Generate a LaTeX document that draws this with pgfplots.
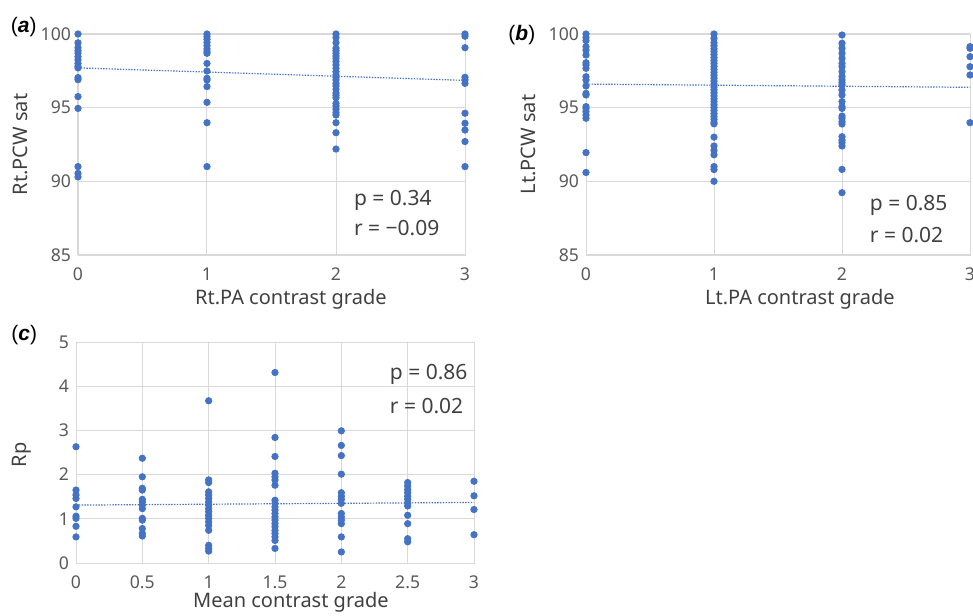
\documentclass[border=0pt]{standalone}
\usepackage{pgfplots}
\pgfplotsset{compat=1.18}
\usepackage{fontspec}
\setmainfont{Noto Sans}
\newfontfamily\tagfont{Liberation Sans}
\definecolor{XBlue}{HTML}{4472C4}
\definecolor{GridGray}{HTML}{D9D9D9}
\definecolor{TickGray}{HTML}{595959}
\definecolor{TextGray}{HTML}{404040}

\pgfplotsset{
  panel/.style={
    scale only axis,
    axis line style={GridGray},
    grid=major,
    grid style={GridGray, line width=0.5pt},
    major tick length=0pt,
    tick style={draw=none},
    ticklabel style={font=\fontsize{8.8}{10}\selectfont, text=TickGray},
    /pgf/number format/assume math mode=true,
    xticklabel style={yshift=-3pt},
    label style={font=\fontsize{10}{12}\selectfont, text=TextGray},
    clip=false,
  },
  dots/.style={only marks, mark=*, mark size=1.6pt, color=XBlue},
  trend/.style={XBlue, line width=0.6pt, dash pattern=on 0.7pt off 0.7pt},
}
\tikzset{
  stat/.style={font=\fontsize{10.5}{12}\selectfont, text=TextGray, anchor=west},
  tag/.style={font=\tagfont\fontsize{10.5}{12}\selectfont, text=black},
}

\begin{document}
\begin{tikzpicture}

% (a) Rt.PCW sat vs Rt.PA contrast grade
\begin{axis}[panel,
  at={(39pt,180pt)}, anchor=south west,
  width=193.5pt, height=110.5pt,
  xmin=0, xmax=3, ymin=85, ymax=100,
  xtick={0,1,2,3}, ytick={85,90,95,100},
  xlabel={Rt.PA contrast grade},
  ylabel={Rt.PCW sat},
  xlabel style={at={(axis description cs:0.55,-0.2)}, anchor=center},
  ylabel style={at={(axis description cs:-0.15,0.5)}, anchor=center},
]
\addplot[dots] table {
x y
0 100
0 99.4
0 99.07
0 98.87
0 98.7
0 98.46
0 98.24
0 98.0
0 97.8
0 97.7
0 97.04
0 96.9
0 95.75
0 94.95
0 91.0
0 90.54
0 90.3
1 100
1 99.82
1 99.64
1 99.43
1 99.2
1 98.98
1 98.8
1 98.69
1 98.0
1 97.49
1 96.99
1 96.88
1 96.43
1 95.36
1 93.98
1 91.0
2 100
2 99.77
2 99.41
2 99.03
2 98.87
2 98.69
2 98.51
2 98.33
2 98.12
2 97.9
2 97.67
2 97.44
2 97.22
2 97.06
2 96.88
2 96.65
2 96.47
2 96.24
2 96.0
2 95.86
2 95.68
2 95.29
2 95.11
2 94.89
2 94.66
2 94.5
2 93.98
2 93.3
2 92.19
3 100
3 99.85
3 99.07
3 97.06
3 96.88
3 96.65
3 94.62
3 93.94
3 93.48
3 92.7
3 91.0
};
\addplot[trend] coordinates {(0,97.7) (3,96.85)};
\node[tag] at (axis description cs:-0.14,1.03) {(\textbf{\textit{a}})};
\node[stat] at (axis description cs:0.695,0.249) {p = 0.34};
\node[stat] at (axis description cs:0.695,0.122) {r = −0.09};
\end{axis}

% (b) Lt.PCW sat vs Lt.PA contrast grade
\begin{axis}[panel,
  at={(293pt,180pt)}, anchor=south west,
  width=192pt, height=110.5pt,
  xmin=0, xmax=3, ymin=85, ymax=100,
  xtick={0,1,2,3}, ytick={85,90,95,100},
  xlabel={Lt.PA contrast grade},
  ylabel={Lt.PCW sat},
  xlabel style={at={(axis description cs:0.557,-0.2)}, anchor=center},
  ylabel style={at={(axis description cs:-0.151,0.5)}, anchor=center},
]
\addplot[dots] table {
x y
0 100
0 99.77
0 99.55
0 99.14
0 98.91
0 98.57
0 98.05
0 97.9
0 97.67
0 97.1
0 96.88
0 96.47
0 95.97
0 95.86
0 95.07
0 94.95
0 94.73
0 94.5
0 94.28
0 91.95
0 90.6
1 100
1 99.7
1 99.4
1 99.2
1 99.0
1 98.8
1 98.6
1 98.4
1 98.2
1 98.0
1 97.8
1 97.6
1 97.4
1 97.2
1 97.0
1 96.8
1 96.6
1 96.4
1 96.2
1 96.0
1 95.8
1 95.6
1 95.4
1 95.2
1 95.0
1 94.8
1 94.6
1 94.4
1 94.2
1 94.0
1 93.9
1 93.0
1 92.4
1 92.1
1 91.8
1 91.0
1 90.8
1 90.0
2 99.93
2 99.37
2 99.03
2 98.69
2 98.35
2 98.0
2 97.78
2 97.44
2 97.1
2 96.88
2 96.7
2 96.54
2 96.2
2 95.86
2 95.41
2 95.07
2 94.95
2 94.43
2 94.28
2 94.05
2 93.89
2 93.03
2 92.8
2 92.62
2 92.4
2 90.81
2 89.23
3 99.14
3 99.03
3 98.46
3 97.78
3 97.22
3 93.98
};
\addplot[trend] coordinates {(0,96.6) (3,96.38)};
\node[tag] at (axis description cs:-0.167,0.995) {(\textbf{\textit{b}})};
\node[stat] at (axis description cs:0.721,0.226) {p = 0.85};
\node[stat] at (axis description cs:0.721,0.09) {r = 0.02};
\end{axis}

% (c) Rp vs Mean contrast grade
\begin{axis}[panel,
  at={(38pt,26pt)}, anchor=south west,
  width=199pt, height=110.5pt,
  xmin=0, xmax=3, ymin=0, ymax=5,
  xtick={0,0.5,1,1.5,2,2.5,3}, ytick={0,1,2,3,4,5},
  xlabel={Mean contrast grade},
  ylabel={Rp},
  xlabel style={at={(axis description cs:0.54,-0.18)}, anchor=center},
  ylabel style={at={(axis description cs:-0.136,0.49)}, anchor=center},
]
\addplot[dots] table {
x y
0 2.63
0 1.65
0 1.54
0 1.46
0 1.27
0 1.06
0 1.01
0 0.83
0 0.59
0.5 2.37
0.5 1.95
0.5 1.69
0.5 1.65
0.5 1.44
0.5 1.38
0.5 1.31
0.5 1.23
0.5 1.01
0.5 0.97
0.5 0.78
0.5 0.67
0.5 0.61
1 3.67
1 1.88
1 1.82
1 1.61
1 1.54
1 1.46
1 1.38
1 1.31
1 1.23
1 1.16
1 1.08
1 1.01
1 0.93
1 0.85
1 0.74
1 0.40
1 0.33
1 0.27
1.5 4.31
1.5 2.84
1.5 2.41
1.5 2.03
1.5 1.95
1.5 1.88
1.5 1.76
1.5 1.42
1.5 1.35
1.5 1.27
1.5 1.20
1.5 1.12
1.5 1.04
1.5 0.97
1.5 0.89
1.5 0.82
1.5 0.74
1.5 0.67
1.5 0.59
1.5 0.51
1.5 0.33
2 2.99
2 2.66
2 2.43
2 2.01
2 1.59
2 1.51
2 1.44
2 1.35
2 1.12
2 1.04
2 0.97
2 0.89
2 0.59
2 0.25
2.5 1.82
2.5 1.74
2.5 1.66
2.5 1.59
2.5 1.51
2.5 1.44
2.5 1.36
2.5 1.29
2.5 1.08
2.5 0.89
2.5 0.55
2.5 0.48
3 1.85
3 1.52
3 1.21
3 0.64
};
\addplot[trend] coordinates {(0,1.31) (3,1.37)};
\node[tag] at (axis description cs:-0.13,1.03) {(\textbf{\textit{c}})};
\node[stat] at (axis description cs:0.771,0.855) {p = 0.86};
\node[stat] at (axis description cs:0.771,0.71) {r = 0.02};
\end{axis}

\pgfresetboundingbox
\path[use as bounding box] (0,0) rectangle (486.5pt,307.5pt);
\end{tikzpicture}
\end{document}
